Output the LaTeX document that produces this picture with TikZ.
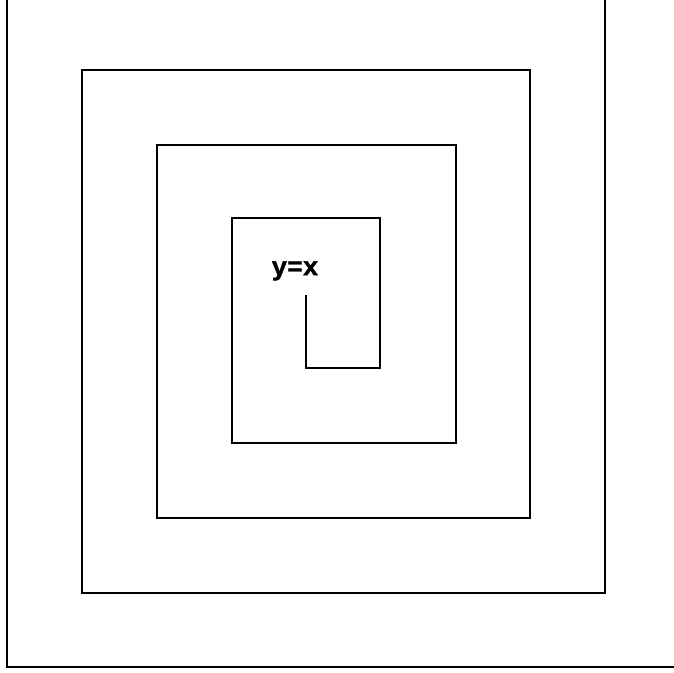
\documentclass[tikz,border=0pt]{standalone}
\usepackage{fontspec}
\newfontfamily\eqfont{Liberation Mono}[FakeBold=1.5]
\begin{document}
\begin{tikzpicture}[x=1pt,y=-1pt,line join=miter]
  \tikzset{spiral/.style={draw=black, line width=1.2pt},
    eqlabel/.style={font=\eqfont\bfseries\fontsize{26}{26}\selectfont, inner sep=0pt}}
  \useasboundingbox (0,0) rectangle (674,672);
  % ------- the spiral, from the centre outwards -------
  \draw[spiral] (306,295) -- (306,368) -- (380,368) -- (380,218) -- (232,218)
    -- (232,443) -- (456,443) -- (456,145) -- (157,145) -- (157,518)
    -- (530,518) -- (530,70) -- (82,70) -- (82,593) -- (605,593)
    -- (605,-5) -- (7,-5) -- (7,667) -- (680,667);
  \node[eqlabel] (eq) at (295,271) {y=x};
\end{tikzpicture}
\end{document}
